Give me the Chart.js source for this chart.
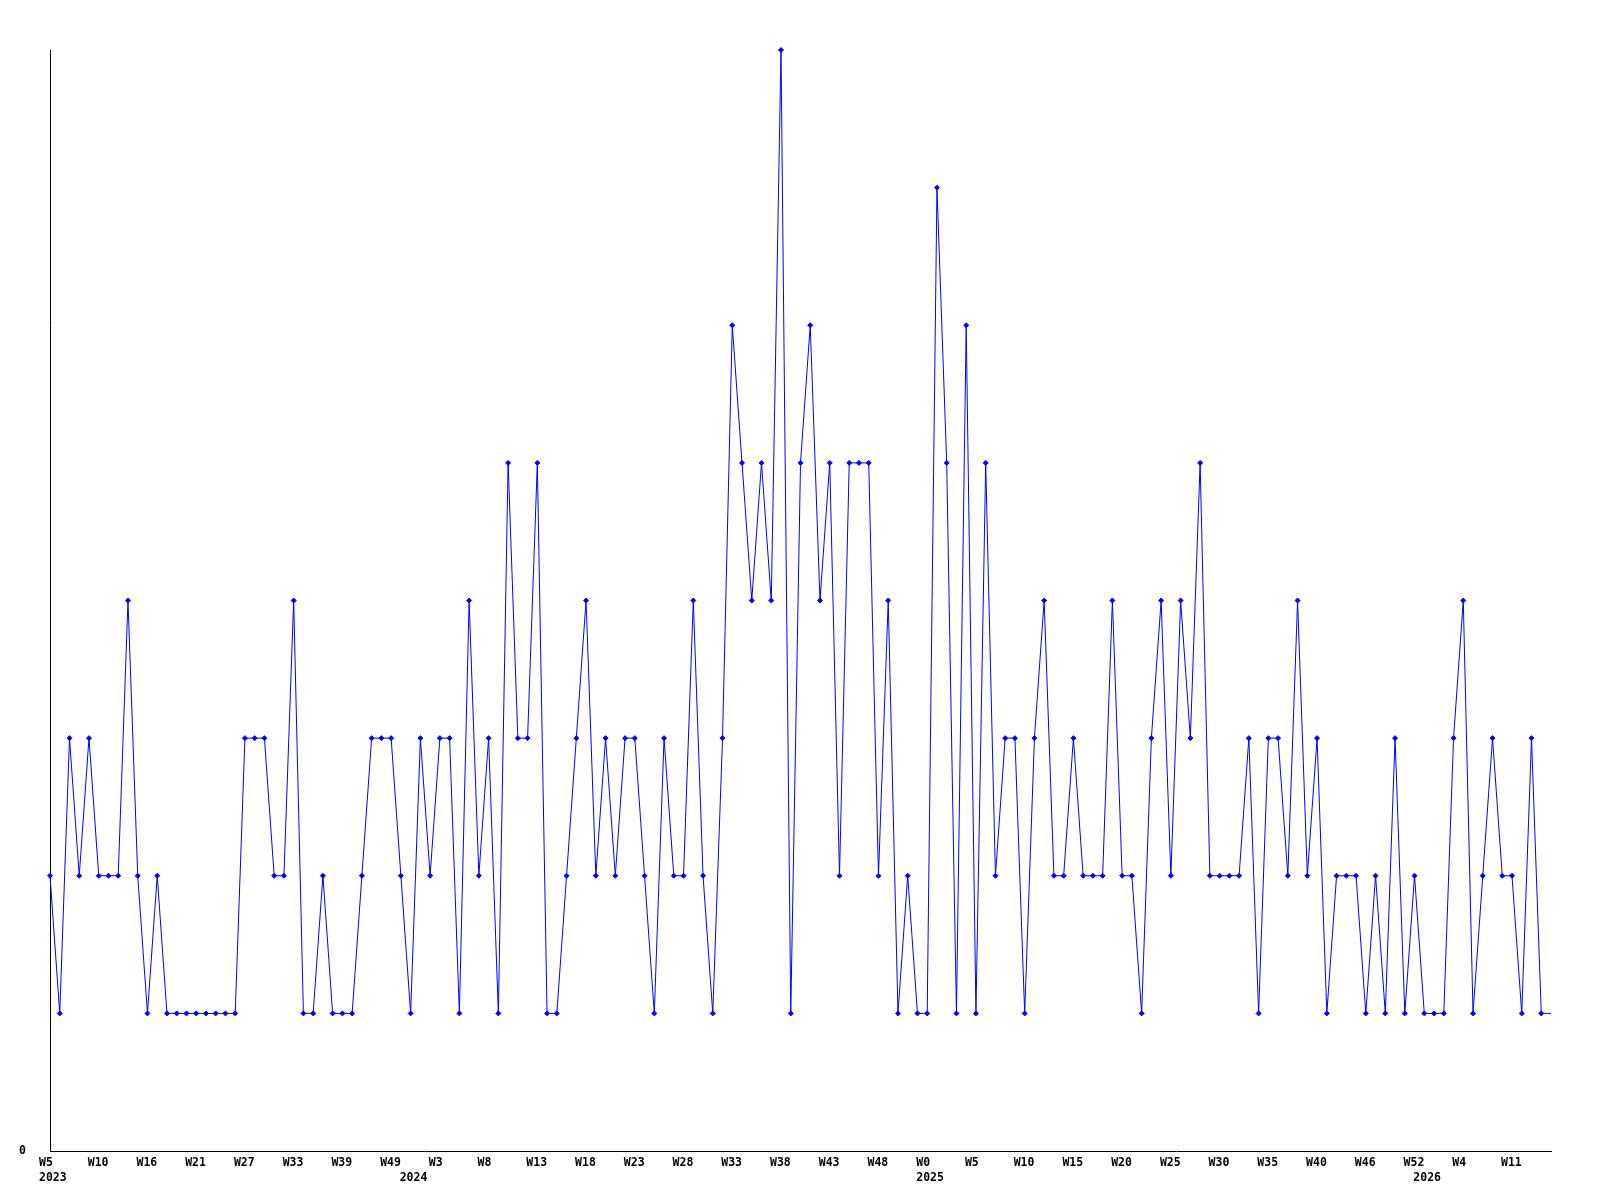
<!DOCTYPE html>
<html>
<head>
<meta charset="utf-8">
<script src="https://cdn.jsdelivr.net/npm/chart.js@4"></script>
<style>
html, body { margin: 0; padding: 0; background: #ffffff; }
#wrap { width: 1600px; height: 1200px; }
</style>
</head>
<body>
<div id="wrap"><canvas id="c" width="1600" height="1200"></canvas></div>
<script>
// Weekly counts, one per point (155 points)
const counts = [
  2,1,3,2,3,2,2,2,4,2,
  1,2,1,1,1,1,1,1,1,1,
  3,3,3,2,2,4,1,1,2,1,
  1,1,2,3,3,3,2,1,3,2,
  3,3,1,4,2,3,1,5,3,3,
  5,1,1,2,3,4,2,3,2,3,
  3,2,1,3,2,2,4,2,1,3,
  6,5,4,5,4,8,1,5,6,4,
  5,2,5,5,5,2,4,1,2,1,
  1,7,5,1,6,1,5,2,3,3,
  1,3,4,2,2,3,2,2,2,4,
  2,2,1,3,4,2,4,3,5,2,
  2,2,2,3,1,3,3,2,4,2,
  3,1,2,2,2,1,2,1,3,1,
  2,1,1,1,3,4,1,2,3,2,
  2,1,3,1,1
];

// Week tick labels, shown on every 5th point
const weekTicks = [
  'W5','W10','W16','W21','W27','W33','W39','W49','W3','W8',
  'W13','W18','W23','W28','W33','W38','W43','W48','W0','W5',
  'W10','W15','W20','W25','W30','W35','W40','W46','W52','W4',
  'W11'
];
const weekTickEvery = 5;

// Year labels: point index where each year starts
const yearTickIndex = [0, 37, 90, 141];
const yearTickText  = ['2023', '2024', '2025', '2026'];

// Y axis tick values
const yTicks = [0];

const categories = counts.map((_, i) => i);

const tickFont = { family: 'DejaVu Sans Mono', weight: 'bold', size: 11.5, lineHeight: '15.5px' };

const pointRadii = counts.map((_, i) => (i === counts.length - 1 ? 0 : 2.5));

new Chart(document.getElementById('c'), {
  type: 'line',
  data: {
    labels: categories,
    datasets: [{
      data: counts,
      borderColor: '#0000ff',
      backgroundColor: '#0000ff',
      borderWidth: 1,
      pointStyle: 'rectRot',
      pointRadius: pointRadii,
      pointBorderWidth: 1,
      pointBorderColor: '#0000ff',
      pointBackgroundColor: '#0000ff',
      tension: 0,
      fill: false,
      clip: false
    }]
  },
  options: {
    responsive: false,
    animation: false,
    devicePixelRatio: 1,
    layout: { padding: { left: 0, right: 49, top: 50, bottom: 0 } },
    plugins: { legend: { display: false }, tooltip: { enabled: false } },
    events: [],
    scales: {
      x: {
        type: 'category',
        offset: false,
        grid: { display: false, drawTicks: false },
        border: { display: true, color: '#000000', width: 1 },
        ticks: {
          autoSkip: false,
          maxRotation: 0,
          minRotation: 0,
          align: 'start',
          labelOffset: -11,
          padding: 4,
          color: '#000000',
          font: tickFont,
          callback: function (value, index) {
            const week = index % weekTickEvery === 0 ? (weekTicks[index / weekTickEvery] || '') : '';
            const yi = yearTickIndex.indexOf(index);
            const year = yi >= 0 ? yearTickText[yi] : '';
            return [week, year];
          }
        },
        afterFit: function (scale) { scale.height = 49; }
      },
      y: {
        min: 0,
        max: 8,
        grid: { display: false, drawTicks: false },
        border: { display: true, color: '#000000', width: 1 },
        afterBuildTicks: function (scale) { scale.ticks = yTicks.map(v => ({ value: v })); },
        ticks: {
          padding: 24,
          color: '#000000',
          font: tickFont,
          callback: function (value) { return String(value); }
        },
        afterFit: function (scale) { scale.width = 50; }
      }
    }
  }
});
</script>
</body>
</html>
